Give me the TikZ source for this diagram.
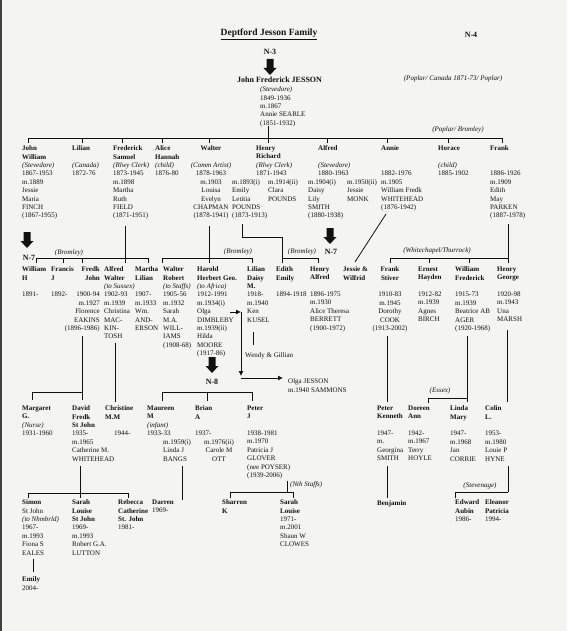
\documentclass[tikz,border=0pt]{standalone}
\usepackage{fontspec}
\setmainfont{Liberation Serif}
\definecolor{jessonInk}{HTML}{111111}
\definecolor{jessonPaper}{HTML}{F4F4F2}
\usetikzlibrary{
	arrows.meta,
	positioning
}
\newcommand{\nm}[1]{\textbf{#1}}
\newcommand{\occ}[1]{\textit{#1}}
\newcommand{\blankrow}{\mbox{}}

\begin{document}
\begin{tikzpicture}[x=1pt,y=-1pt,
		every node/.style={inner sep=0pt,text=jessonInk},
		person/.style={anchor=north west,align=left,font=\fontsize{7}{8.4}\selectfont,execute at begin node=\strut},
		cperson/.style={person,anchor=north,align=center},
		rperson/.style={person,anchor=north east,align=right},
		place/.style={font=\fontsize{7}{8}\selectfont\itshape},
		pageref/.style={font=\fontsize{8}{9}\selectfont\bfseries},
		line/.style={draw=jessonInk,line width=0.8pt},
		tip/.style={line,-{Latex[length=5pt,width=5pt]}},
		bigarrow/.pic={\fill[jessonInk] (-3.5,0) -- (3.5,0) -- (3.5,9) -- (6.5,9) -- (0,16) -- (-6.5,9) -- (-3.5,9) -- cycle;}
	]
		\fill[jessonPaper] (0,0) rectangle (567,631);
		\useasboundingbox (0,0) rectangle (567,631);
		\fill[black!75] (0,0) rectangle (2,631);
		
		\node[font=\fontsize{9.5}{11}\selectfont\bfseries] (title) at (269,34) {\underline{Deptford Jesson Family}};
		\node[pageref] (n4) at (471,35) {N-4};
		\node[pageref] (n3) at (270,52) {N-3};
		\pic at (270,59) {bigarrow};
		\node[font=\fontsize{8}{9}\selectfont\bfseries,anchor=west] (jfj) at (237,80) {John Frederick JESSON};
		\node[person] (jfjd) at (260,86.6) {\occ{(Stevedore)}\\1849-1936\\m.1867\\Annie SEARLE\\(1851-1932)};
		\node[place] (poplar1) at (453,79) {(Poplar/ Canada 1871-73/ Poplar)};
		\node[place] (poplar2) at (458,130) {(Poplar/ Bromley)};
		
		% children of John Frederick
		\coordinate (gen2L) at (28,138);
		\coordinate (gen2R) at (502,138);
		\draw[line] (268,126) -- (268,143);
		\draw[line] (gen2L) -- (gen2R);
		\foreach \x in {28,82,122,162,209,327,387,448,502}{\draw[line] (\x,138) -- (\x,143);}
		
		\node[person] (jw) at (22,145.6) {\nm{John}\\\nm{William}\\\occ{(Stevedore)}\\1867-1953\\m.1889\\Jessie\\Maria\\FINCH\\(1867-1955)};
		\node[person] (lilian) at (72,145.6) {\nm{Lilian}\\\blankrow\\\occ{(Canada)}\\1872-76};
		\node[person] (fred) at (113,145.6) {\nm{Frederick}\\\nm{Samuel}\\\occ{(Rlwy Clerk)}\\1873-1945\\m.1898\\Martha\\Ruth\\FIELD\\(1871-1951)};
		\node[person] (alice) at (155,145.6) {\nm{Alice}\\\nm{Hannah}\\\occ{(child)}\\1876-80};
		\node[cperson] (walter) at (211,145.6) {\nm{Walter}\\\blankrow\\\occ{(Comm Artist)}\\1878-1963\\m.1903\\Louisa\\Evelyn\\CHAPMAN\\(1878-1941)};
		\node[person] (henry) at (256,145.6) {\nm{Henry}\\\nm{Richard}\\\occ{(Rlwy Clerk)}\\1871-1943};
		\node[person] (henrym1) at (232,179.2) {m.1893(i)\\Emily\\Letitia\\POUNDS\\(1873-1913)};
		\node[person] (henrym2) at (268,179.2) {m.1914(ii)\\Clara\\POUNDS};
		\node[person] (alfred) at (318,145.6) {\nm{Alfred}\\\blankrow\\\occ{(Stevedore)}\\1880-1963};
		\node[person] (alfredm1) at (308,179.2) {m.1904(i)\\Daisy\\Lily\\SMITH\\(1880-1938)};
		\node[person] (alfredm2) at (347,179.2) {m.1950(ii)\\Jessie\\MONK};
		\node[person] (annie) at (381,145.6) {\nm{Annie}\\\blankrow\\\blankrow\\1882-1976\\m.1905\\William Fredk\\WHITEHEAD\\(1876-1942)};
		\node[person] (horace) at (438,145.6) {\nm{Horace}\\\blankrow\\\occ{(child)}\\1885-1902};
		\node[person] (frank) at (490,145.6) {\nm{Frank}\\\blankrow\\\blankrow\\1886-1926\\m.1909\\Edith\\May\\PARKEN\\(1887-1978)};
		
		\pic at (27,232) {bigarrow};
		\node[pageref] (n7a) at (29,258) {N-7};
		\pic at (330,228) {bigarrow};
		\node[pageref] (n7b) at (331,252) {N-7};
		
		% grandchildren
		\node[place] (bromley1) at (69,253) {(Bromley)};
		\draw[line] (125,226) -- (125,263);
		\draw[line] (36,258) -- (148,258);
		\foreach \x in {36,63,82,148}{\draw[line] (\x,258) -- (\x,263);}
		
		\node[place] (bromley2) at (238,252) {(Bromley)};
		\draw[line] (209,226) -- (209,263);
		\draw[line] (162,258) -- (252,258);
		\foreach \x in {162,252}{\draw[line] (\x,258) -- (\x,263);}
		
		\node[place] (bromley3) at (302,252) {(Bromley)};
		\draw[line] (242,224) -- (242,237) -- (282,237) -- (282,263);
		\draw[line] (282,258) -- (318,258) -- (318,263);
		
		\node[place] (thurrock) at (437,251) {(Whitechapel/Thurrock)};
		\draw[line] (508,224) -- (508,263);
		\draw[line] (390,258) -- (508,258);
		\foreach \x in {390,429,469}{\draw[line] (\x,258) -- (\x,263);}
		
		\draw[line] (386,214) -- (355,262);
		
		\node[person] (williamh) at (22,266.6) {\nm{William}\\\nm{H}\\\blankrow\\1891-};
		\node[person] (francis) at (51,266.6) {\nm{Francis}\\\nm{J}\\\blankrow\\1892-};
		\node[rperson] (fredkjohn) at (100,266.6) {\nm{Fredk}\\\nm{John}\\\blankrow\\1900-94\\m.1927\\Florence\\EAKINS\\(1896-1986)};
		\node[person] (alfredw) at (104,266.6) {\nm{Alfred}\\\nm{Walter}\\\occ{(to Sussex)}\\1902-93\\m.1939\\Christina\\MAC-\\KIN-\\TOSH};
		\node[person] (martha) at (135,266.6) {\nm{Martha}\\\nm{Lilian}\\\blankrow\\1907-\\m.1933\\Wm.\\AND-\\ERSON};
		\node[person] (walterr) at (163,266.6) {\nm{Walter}\\\nm{Robert}\\\occ{(to Staffs)}\\1905-56\\m.1932\\Sarah\\M.A.\\WILL-\\IAMS\\(1908-68)};
		\node[person] (harold) at (197,266.6) {\nm{Harold}\\\nm{Herbert Geo.}\\\occ{(to Africa)}\\1912-1991\\m.1934(i)\\Olga\\DIMBLEBY\\m.1939(ii)\\Hilda\\MOORE\\(1917-86)};
		\node[person] (liliand) at (247,266.6) {\nm{Lilian}\\\nm{Daisy}\\\nm{M.}\\1918-\\m.1940\\Ken\\KUSEL};
		\node[person] (edith) at (276,266.6) {\nm{Edith}\\\nm{Emily}\\\blankrow\\1894-1918};
		\node[person] (henrya) at (310,266.6) {\nm{Henry}\\\nm{Alfred}\\\blankrow\\1896-1975\\m.1930\\Alice Theresa\\BERRETT\\(1900-1972)};
		\node[person] (jessiew) at (343,266.6) {\nm{Jessie \&}\\\nm{Wilfrid}};
		\node[cperson] (franks) at (390,266.6) {\nm{Frank}\\\nm{Stiver}\\\blankrow\\1910-83\\m.1945\\Dorothy\\COOK\\(1913-2002)};
		\node[person] (ernest) at (418,266.6) {\nm{Ernest}\\\nm{Hayden}\\\blankrow\\1912-82\\m.1939\\Agnes\\BIRCH};
		\node[person] (williamf) at (455,266.6) {\nm{William}\\\nm{Frederick}\\\blankrow\\1915-73\\m.1939\\Beatrice AB\\AGER\\(1920-1968)};
		\node[person] (henryg) at (497,266.6) {\nm{Henry}\\\nm{George}\\\blankrow\\1920-98\\m.1943\\Una\\MARSH};
		
		\draw[line] (253,332) -- (253,345);
		\node[person] (wendy) at (245,351.6) {Wendy \& Gillian};
		\pic at (212,357) {bigarrow};
		\node[pageref] (n8) at (212,382) {N-8};
		
		\node[person] (olgaj) at (288,378.6) {Olga JESSON\\m.1940 SAMMONS};
		\coordinate (olgaout) at (230,312);
		\coordinate (olgaturn) at (241,312);
		\coordinate (olgadown) at (241,376);
		\coordinate (olgabend) at (241,378);
		\draw[tip] (olgaout) -- (olgaturn);
		\draw[tip] (olgaturn) -- (olgadown);
		\draw[tip] (olgabend) -- ([xshift=-5pt]olgabend -| olgaj.west);
		
		% great-grandchildren
		\draw[line] (82,336) -- (82,400);
		\draw[line] (32,400) -- (32,392) -- (82,392);
		\draw[line] (115,343) -- (115,402);
		\draw[line] (162,392) -- (252,392);
		\foreach \x in {162,207,252}{\draw[line] (\x,392) -- (\x,401);}
		\draw[line] (387,336) -- (387,402);
		\node[place] (essex) at (440,391) {(Essex)};
		\draw[line] (467,336) -- (467,402);
		\draw[line] (428,403) -- (428,398) -- (467,398);
		\draw[line] (507,330) -- (507,402);
		
		\node[person] (margaret) at (22,405.6) {\nm{Margaret}\\\nm{G.}\\\occ{(Nurse)}\\1931-1960};
		\node[person] (david) at (72,405.6) {\nm{David}\\\nm{Fredk}\\\nm{St John}\\1935-\\m.1965\\Catherine M.\\WHITEHEAD};
		\node[person] (christine) at (105,405.6) {\nm{Christine}\\\nm{M.M}\\\blankrow\\\hspace{9pt}1944-};
		\node[person] (maureen) at (147,405.6) {\nm{Maureen}\\\nm{M}\\\occ{(infant)}\\1933-33};
		\node[person] (brian) at (195,405.6) {\nm{Brian}\\\nm{A}\\\blankrow\\1937-};
		\node[person] (brianm1) at (163,439.2) {m.1959(i)\\Linda J\\BANGS};
		\node[cperson] (brianm2) at (219,439.2) {m.1976(ii)\\Carole M\\OTT};
		\node[person] (peterj) at (247,405.6) {\nm{Peter}\\\nm{J}\\\blankrow\\1938-1981\\m.1970\\Patricia J\\GLOVER\\(nee POYSER)\\(1939-2006)};
		\node[person] (peterk) at (377,405.6) {\nm{Peter}\\\nm{Kenneth}\\\blankrow\\1947-\\m.\\Georgina\\SMITH};
		\node[person] (doreen) at (408,405.6) {\nm{Doreen}\\\nm{Ann}\\\blankrow\\1942-\\m.1967\\Terry\\HOYLE};
		\node[person] (linda) at (450,405.6) {\nm{Linda}\\\nm{Mary}\\\blankrow\\1947-\\m.1968\\Jan\\CORRIE};
		\node[person] (colin) at (485,405.6) {\nm{Colin}\\\nm{L.}\\\blankrow\\1953-\\m.1980\\Louie P\\HYNE};
		
		% next generation
		\draw[line] (80,466) -- (80,498);
		\draw[line] (28,498) -- (28,493) -- (128,493) -- (128,498);
		\draw[line] (182,466) -- (182,500);
		\node[place,anchor=west] (nstaffs) at (290,485) {(Nth Staffs)};
		\draw[line] (287,481) -- (287,492);
		\draw[line] (230,498) -- (230,492) -- (293,492) -- (293,498);
		\draw[line] (387,466) -- (387,498);
		\node[place] (stevenage) at (480,486) {(Stevenage)};
		\draw[line] (508,466) -- (508,492);
		\draw[line] (455,498) -- (455,492) -- (508,492);
		
		\node[person] (simon) at (22,499.6) {\nm{Simon}\\St John\\\occ{(to Nhmbrld)}\\1967-\\m.1993\\Fiona S\\EALES};
		\node[person] (sarahsj) at (72,499.6) {\nm{Sarah}\\\nm{Louise}\\\nm{St John}\\1969-\\m.1993\\Robert G.A.\\LUTTON};
		\node[person] (rebecca) at (118,499.6) {\nm{Rebecca}\\\nm{Catherine}\\\nm{St. John}\\1981-};
		\node[person] (darren) at (152,499.6) {\nm{Darren}\\1969-};
		\node[person] (sharron) at (222,499.6) {\nm{Sharron}\\\nm{K}};
		\node[person] (sarahlc) at (280,499.6) {\nm{Sarah}\\\nm{Louise}\\1971-\\m.2001\\Shaun W\\CLOWES};
		\node[person] (benjamin) at (377,499.6) {\nm{Benjamin}};
		\node[person] (edward) at (455,499.6) {\nm{Edward}\\\nm{Aubin}\\1986-};
		\node[person] (eleanor) at (485,499.6) {\nm{Eleanor}\\\nm{Patricia}\\1994-};
		
		\draw[line] (33,559) -- (33,572);
		\node[person] (emily) at (22,576.6) {\nm{Emily}\\2004-};
	\end{tikzpicture}
\end{document}
